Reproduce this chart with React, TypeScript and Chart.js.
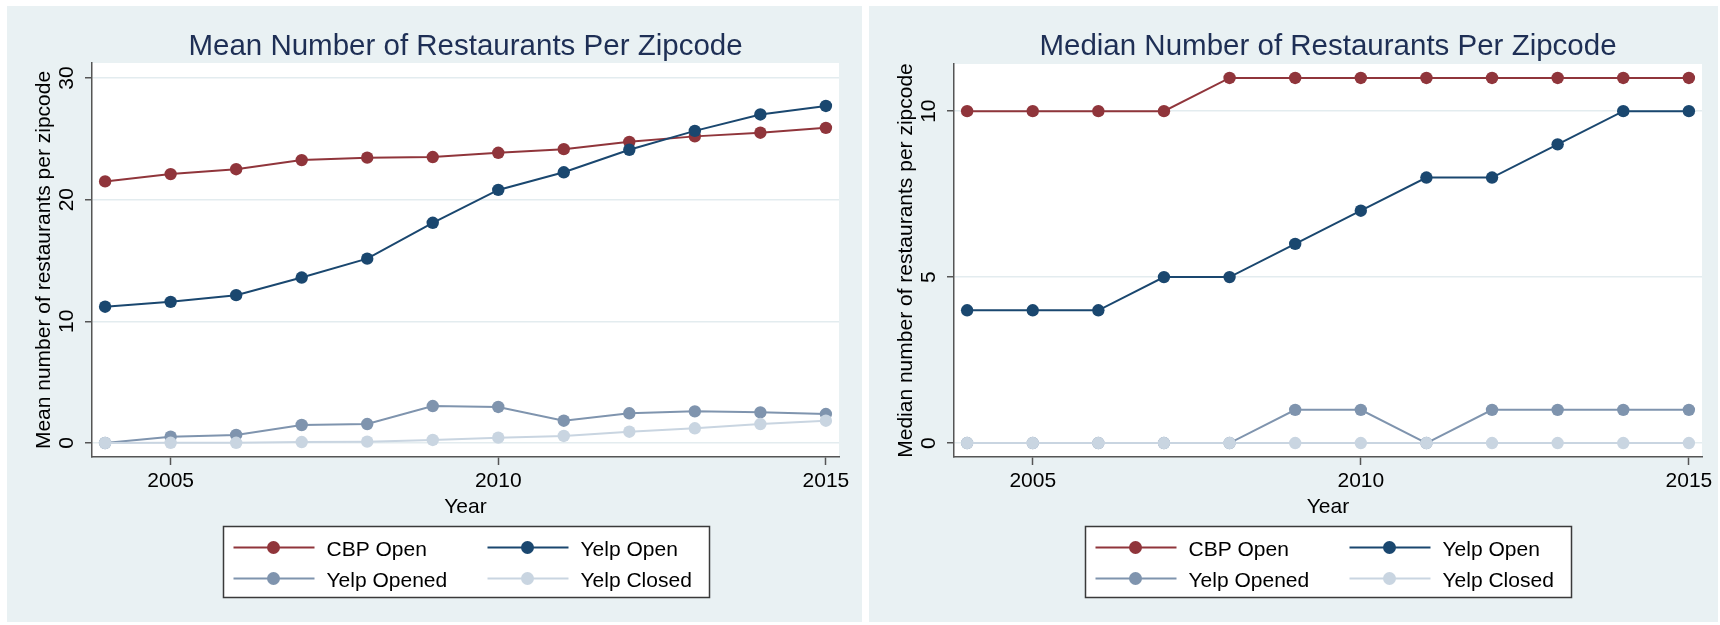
import React, { useEffect, useRef } from 'react';
import { Chart, registerables } from 'chart.js';

Chart.register(...registerables);

// ---------- data ----------
const YEARS = [2004, 2005, 2006, 2007, 2008, 2009, 2010, 2011, 2012, 2013, 2014, 2015];
const X_TICKS = [2005, 2010, 2015];
const SERIES_NAMES = ['CBP Open', 'Yelp Open', 'Yelp Opened', 'Yelp Closed'];

const MEAN_CBP_OPEN = [21.5, 22.1, 22.5, 23.25, 23.45, 23.5, 23.85, 24.15, 24.75, 25.2, 25.5, 25.9];
const MEAN_YELP_OPEN = [11.2, 11.6, 12.15, 13.6, 15.15, 18.1, 20.8, 22.25, 24.1, 25.65, 27.0, 27.7];
const MEAN_YELP_OPENED = [0.0, 0.52, 0.66, 1.48, 1.56, 3.04, 2.96, 1.83, 2.44, 2.6, 2.52, 2.38];
const MEAN_YELP_CLOSED = [0.0, 0.02, 0.02, 0.08, 0.11, 0.25, 0.44, 0.58, 0.93, 1.21, 1.56, 1.83];
const MEAN_Y_TICKS = [0, 10, 20, 30];

const MEDIAN_CBP_OPEN = [10, 10, 10, 10, 11, 11, 11, 11, 11, 11, 11, 11];
const MEDIAN_YELP_OPEN = [4, 4, 4, 5, 5, 6, 7, 8, 8, 9, 10, 10];
const MEDIAN_YELP_OPENED = [0, 0, 0, 0, 0, 1, 1, 0, 1, 1, 1, 1];
const MEDIAN_YELP_CLOSED = [0, 0, 0, 0, 0, 0, 0, 0, 0, 0, 0, 0];
const MEDIAN_Y_TICKS = [0, 5, 10];

// ---------- style ----------
const FONT = '"Liberation Sans", Arial, Helvetica, sans-serif';
const SERIES_COLORS = ['#90353B', '#1A476F', '#7F94AE', '#C9D5E1'];
const PANEL_BG = '#E9F1F3';
const GRID = '#E3ECEF';
const AXIS = '#555555';
const TITLE_COLOR = '#1E2F55';

const panelPlugin = {
  id: 'panelDecor',
  beforeDraw(chart: any) {
    const { ctx, chartArea, width, height } = chart;
    ctx.save();
    ctx.fillStyle = PANEL_BG;
    ctx.fillRect(0, 0, width, height);
    ctx.fillStyle = '#FFFFFF';
    ctx.fillRect(chartArea.left, chartArea.top, chartArea.right - chartArea.left, chartArea.bottom - chartArea.top);
    ctx.restore();
  },
  afterDraw(chart: any) {
    const { ctx, chartArea } = chart;
    const opts = chart.options.plugins.panelDecor || {};
    const cx = (chartArea.left + chartArea.right) / 2;
    ctx.save();
    // title
    ctx.fillStyle = TITLE_COLOR;
    ctx.font = `29.5px ${FONT}`;
    ctx.textAlign = 'center';
    ctx.textBaseline = 'alphabetic';
    ctx.fillText(opts.title || '', cx, 49);
    // legend box
    const boxW = 486;
    const boxH = 71;
    const bx = Math.round(cx - boxW / 2) + 0.5;
    const by = 520.5;
    ctx.fillStyle = '#FFFFFF';
    ctx.fillRect(bx, by, boxW, boxH);
    ctx.strokeStyle = '#3A3A3A';
    ctx.lineWidth = 1.5;
    ctx.strokeRect(bx, by, boxW, boxH);
    const rows = [by + 21, by + 52];
    const cols = [bx + 10, bx + 264];
    chart.data.datasets.forEach((ds: any, i: number) => {
      const lx = cols[i % 2];
      const ly = rows[Math.floor(i / 2)];
      ctx.strokeStyle = ds.borderColor;
      ctx.lineWidth = 2;
      ctx.beginPath();
      ctx.moveTo(lx, ly);
      ctx.lineTo(lx + 81, ly);
      ctx.stroke();
      ctx.fillStyle = ds.backgroundColor;
      ctx.beginPath();
      ctx.arc(lx + 40, ly, 6.5, 0, Math.PI * 2);
      ctx.fill();
      ctx.fillStyle = '#000000';
      ctx.font = `21px ${FONT}`;
      ctx.textAlign = 'left';
      ctx.textBaseline = 'alphabetic';
      ctx.fillText(ds.label, lx + 93, ly + 8);
    });
    ctx.restore();
  },
};

type PanelProps = {
  left: number;
  width: number;
  padRight: number;
  padTop: number;
  title: string;
  yTitle: string;
  values: number[][];
  yMin: number;
  yMax: number;
  yTicks: number[];
};

function Panel(p: PanelProps) {
  const ref = useRef<HTMLCanvasElement | null>(null);
  useEffect(() => {
    if (!ref.current) return;
    const datasets = SERIES_NAMES.map((name, i) => ({
      label: name,
      data: YEARS.map((x, j) => ({ x, y: p.values[i][j] })),
      borderColor: SERIES_COLORS[i],
      backgroundColor: SERIES_COLORS[i],
      pointBackgroundColor: SERIES_COLORS[i],
      pointBorderWidth: 0,
      pointRadius: 6.2,
      pointHoverRadius: 6.2,
      borderWidth: 2,
      tension: 0,
      order: 3 - i,
    }));
    const chart = new Chart(ref.current, {
      type: 'line',
      data: { datasets },
      plugins: [panelPlugin],
      options: {
        responsive: false,
        animation: false,
        devicePixelRatio: 1,
        events: [],
        layout: { padding: { left: 0, right: p.padRight, top: p.padTop, bottom: 0 } },
        plugins: {
          legend: { display: false },
          title: { display: false },
          tooltip: { enabled: false },
          panelDecor: { title: p.title },
        } as any,
        scales: {
          x: {
            type: 'linear',
            min: 2003.8,
            max: 2015.2,
            afterBuildTicks: (s: any) => {
              s.ticks = X_TICKS.map((v) => ({ value: v }));
            },
            afterFit: (s: any) => {
              s.height = 165;
            },
            grid: {
              display: true,
              drawOnChartArea: false,
              drawTicks: true,
              tickLength: 8,
              tickColor: AXIS,
              tickWidth: 1.5,
            },
            border: { display: true, color: AXIS, width: 1.5 },
            ticks: {
              color: '#000000',
              font: { size: 21, family: FONT },
              padding: 4,
              maxRotation: 0,
              minRotation: 0,
              callback: (v: any) => String(v),
            },
            title: {
              display: true,
              text: 'Year',
              color: '#000000',
              font: { size: 21, family: FONT },
              padding: { top: 0, bottom: 102 },
            },
          },
          y: {
            type: 'linear',
            min: p.yMin,
            max: p.yMax,
            afterBuildTicks: (s: any) => {
              s.ticks = p.yTicks.map((v) => ({ value: v }));
            },
            afterFit: (s: any) => {
              s.width = 85;
            },
            grid: {
              display: true,
              color: GRID,
              lineWidth: 1.5,
              drawTicks: true,
              tickLength: 7,
              tickColor: AXIS,
              tickWidth: 1.5,
            },
            border: { display: true, color: AXIS, width: 1.5 },
            ticks: {
              color: '#000000',
              font: { size: 21, family: FONT },
              padding: 6,
              minRotation: 90,
              maxRotation: 90,
              crossAlign: 'center',
              callback: (v: any) => String(v),
            },
            title: {
              display: true,
              text: p.yTitle,
              color: '#000000',
              font: { size: 21, family: FONT },
              padding: { top: 25, bottom: 0 },
            },
          },
        },
      } as any,
    });
    return () => chart.destroy();
  }, []);
  return (
    <canvas
      ref={ref}
      width={p.width}
      height={616}
      style={{ position: 'absolute', left: p.left, top: 6, width: p.width, height: 616 }}
    />
  );
}

export default function App() {
  useEffect(() => {
    document.body.style.margin = '0';
  }, []);
  return (
    <div style={{ position: 'relative', width: 1720, height: 625, background: '#FFFFFF', overflow: 'hidden' }}>
      <Panel
        left={7}
        width={855}
        padRight={23}
        padTop={57}
        title="Mean Number of Restaurants Per Zipcode"
        yTitle="Mean number of restaurants per zipcode"
        values={[MEAN_CBP_OPEN, MEAN_YELP_OPEN, MEAN_YELP_OPENED, MEAN_YELP_CLOSED]}
        yMin={-1.15}
        yMax={31.23}
        yTicks={MEAN_Y_TICKS}
      />
      <Panel
        left={869}
        width={849}
        padRight={16}
        padTop={58}
        title="Median Number of Restaurants Per Zipcode"
        yTitle="Median number of restaurants per zipcode"
        values={[MEDIAN_CBP_OPEN, MEDIAN_YELP_OPEN, MEDIAN_YELP_OPENED, MEDIAN_YELP_CLOSED]}
        yMin={-0.42}
        yMax={11.42}
        yTicks={MEDIAN_Y_TICKS}
      />
    </div>
  );
}
